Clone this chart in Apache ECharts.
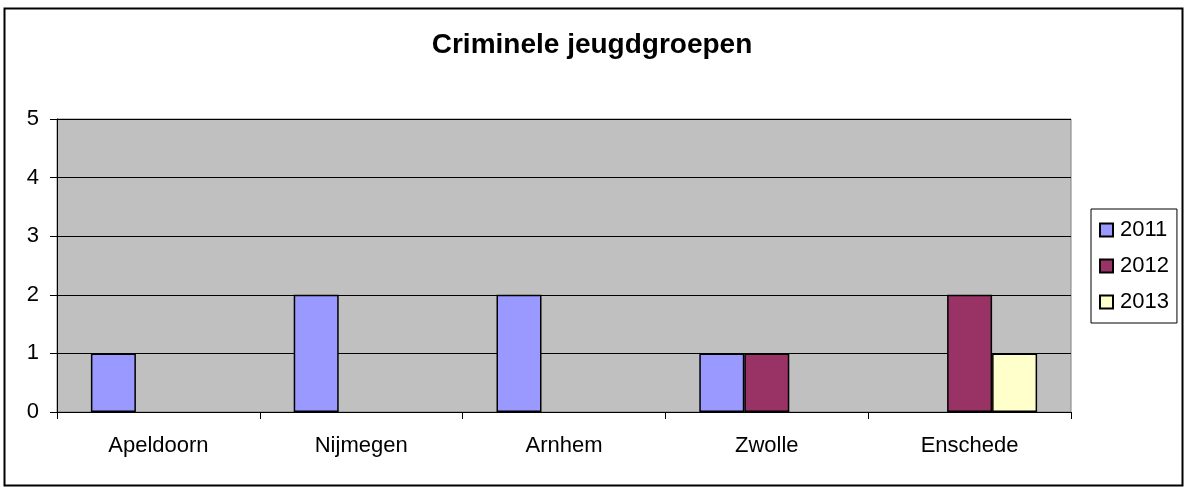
<!DOCTYPE html>
<html><head><meta charset="utf-8">
<script src="https://cdn.jsdelivr.net/npm/echarts@6/dist/echarts.min.js"></script>
<style>html,body{margin:0;padding:0;background:#fff}#c{width:1184px;height:487px}</style>
</head><body><div id="c"></div>
<script>
const categories = ['Apeldoorn', 'Nijmegen', 'Arnhem', 'Zwolle', 'Enschede'];
const seriesNames = ['2011', '2012', '2013'];
const values2011 = [1, 2, 2, 1, 0];
const values2012 = [0, 0, 0, 1, 2];
const values2013 = [0, 0, 0, 0, 1];
const colors = ['#9999FF', '#993366', '#FFFFCC'];
const yTicks = [0, 1, 2, 3, 4, 5];

const chart = echarts.init(document.getElementById('c'));
const font = 'Liberation Sans, Arial, sans-serif';
const allValues = [values2011, values2012, values2013];
chart.setOption({
  animation: false,
  textStyle: {fontFamily: font},
  title: {text: 'Criminele jeugdgroepen', left: 'center', top: 26,
    textStyle: {fontSize: 28, fontWeight: 'bold', color: '#000', fontFamily: font}},
  graphic: [{type: 'rect', shape: {x: 4.5, y: 8.5, width: 1178, height: 477},
    style: {fill: 'none', stroke: '#000', lineWidth: 2}, silent: true}],
  legend: {orient: 'vertical', left: 1091, top: 209, width: 86,
    padding: [10, 8, 10, 8], itemGap: 14, itemWidth: 13, itemHeight: 13,
    borderColor: '#000', borderWidth: 1, icon: 'rect',
    textStyle: {fontSize: 22, color: '#000', fontFamily: font, padding: [0, 0, 0, 2]},
    data: seriesNames},
  grid: {left: 57, top: 119, width: 1014, height: 293, show: true,
    backgroundColor: '#C0C0C0', borderColor: '#808080', borderWidth: 1},
  xAxis: {type: 'category', data: categories,
    axisLine: {lineStyle: {color: '#000', width: 1}},
    axisTick: {show: true, length: 7, lineStyle: {color: '#000'}},
    axisLabel: {fontSize: 22, color: '#000', margin: 23, fontFamily: font},
    splitLine: {show: false}},
  yAxis: {type: 'value', min: yTicks[0], max: yTicks[yTicks.length - 1], interval: 1,
    axisLine: {show: true, lineStyle: {color: '#000'}},
    axisTick: {show: true, length: 7, lineStyle: {color: '#000'}},
    axisLabel: {fontSize: 22, color: '#000', margin: 18, fontFamily: font},
    splitLine: {show: true, lineStyle: {color: '#000', width: 1}}},
  series: seriesNames.map((n, i) => ({
    name: n, type: 'bar', data: allValues[i].map(v => v === 0 ? null : v),
    barWidth: 45, barGap: '0%',
    itemStyle: {color: colors[i], borderColor: '#000', borderWidth: 1.5}
  }))
});
</script></body></html>
